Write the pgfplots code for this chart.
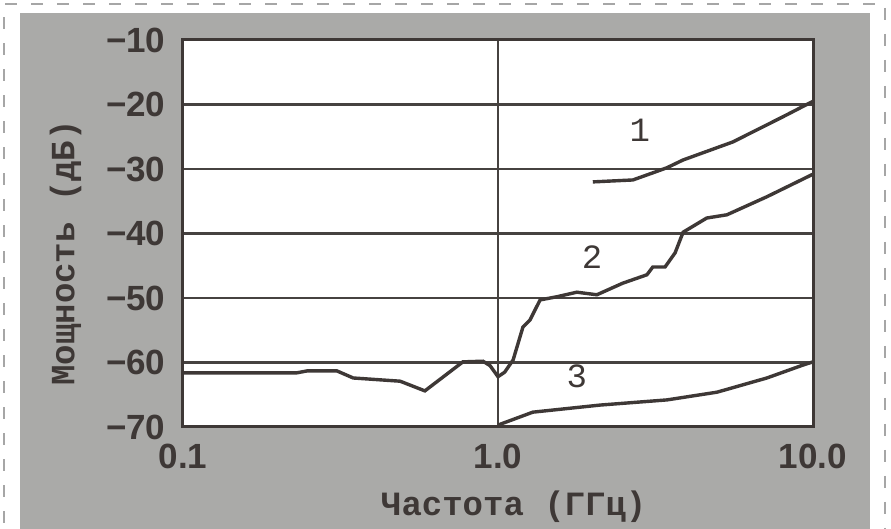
\documentclass[border=0pt]{standalone}
\usepackage{fontspec}
\setmainfont{Liberation Mono}
\setsansfont{Liberation Sans}
\usepackage{pgfplots}
\pgfplotsset{compat=1.18}
\definecolor{bg}{RGB}{170,170,168}
\definecolor{ink}{RGB}{62,56,54}
\definecolor{gridc}{RGB}{70,66,64}
\begin{document}
\begin{tikzpicture}[x=1pt,y=1pt]
\useasboundingbox (0,0) rectangle (891,529);
\fill[white] (0,0) rectangle (891,529);
\fill[bg] (20,0) rectangle (870,516);
\draw[gray!70, line width=1.6pt, dash pattern=on 12pt off 14pt] (4,-20) -- (4,525) -- (885,525) -- (885,-20);
\begin{axis}[
  at={(183pt,102pt)}, anchor=south west,
  scale only axis, width=630pt, height=387pt,
  xmode=log, xmin=0.1, xmax=10, ymin=-70, ymax=-10,
  axis background/.style={fill=white},
  axis line style={ink, line width=3pt},
  xtick={0.1,1,10}, xticklabels={0.1,1.0,10.0},
  ytick={-70,-60,-50,-40,-30,-20,-10},
  yticklabels={−70,−60,−50,−40,−30,−20,−10},
  minor xtick={}, 
  major tick length=0pt, minor tick length=0pt,
  xmajorgrids, ymajorgrids,
  grid style={gridc, line width=2.4pt},
  ticklabel style={font=\fontsize{35}{35}\selectfont\sffamily\bfseries, text=ink},
  xticklabel style={yshift=-14pt},
  yticklabel style={xshift=-14pt},
  xlabel={Частота (ГГц)}, ylabel={Мощность (дБ)},
  label style={font=\fontsize{34}{34}\selectfont\bfseries, text=ink},
  xlabel style={at={(axis description cs:0.525,0)}, anchor=north, yshift=-60pt},
  ylabel style={at={(axis description cs:0,0.45)}, anchor=south, yshift=98pt},
  clip=false,
]
\addplot[ink, line width=3.4pt] coordinates {
(2.0,-32.0) (2.68,-31.7) (3.10,-30.6) (3.44,-29.8) (3.87,-28.6) (5.57,-25.8) (8.03,-21.9) (10,-19.5)
};
\addplot[ink, line width=3.4pt] coordinates {
(0.1,-61.6) (0.230,-61.6) (0.248,-61.3) (0.308,-61.3) (0.347,-62.4) (0.489,-62.9) (0.586,-64.4)
(0.774,-59.9) (0.896,-59.8) (0.944,-60.5) (1.0,-62.2) (1.05,-61.5) (1.117,-59.6) (1.2,-54.5)
(1.264,-53.4) (1.36,-50.3) (1.54,-49.8) (1.78,-49.1) (2.06,-49.5) (2.49,-47.7) (2.97,-46.4)
(3.10,-45.2) (3.39,-45.2) (3.65,-43.0) (3.87,-39.8) (4.60,-37.6) (5.33,-37.1) (7.14,-34.3) (10,-30.8)
};
\addplot[ink, line width=3.4pt] coordinates {
(1.0,-69.7) (1.29,-67.7) (2.11,-66.6) (3.44,-65.8) (4.96,-64.6) (7.14,-62.4) (9.29,-60.4) (10,-59.9)
};
\node[font=\fontsize{34}{34}\selectfont, text=ink] at (axis cs:2.82,-24) {1};
\node[font=\fontsize{34}{34}\selectfont, text=ink] at (axis cs:1.99,-43.6) {2};
\node[font=\fontsize{34}{34}\selectfont, text=ink] at (axis cs:1.78,-62.2) {3};
\end{axis}
\end{tikzpicture}
\end{document}
